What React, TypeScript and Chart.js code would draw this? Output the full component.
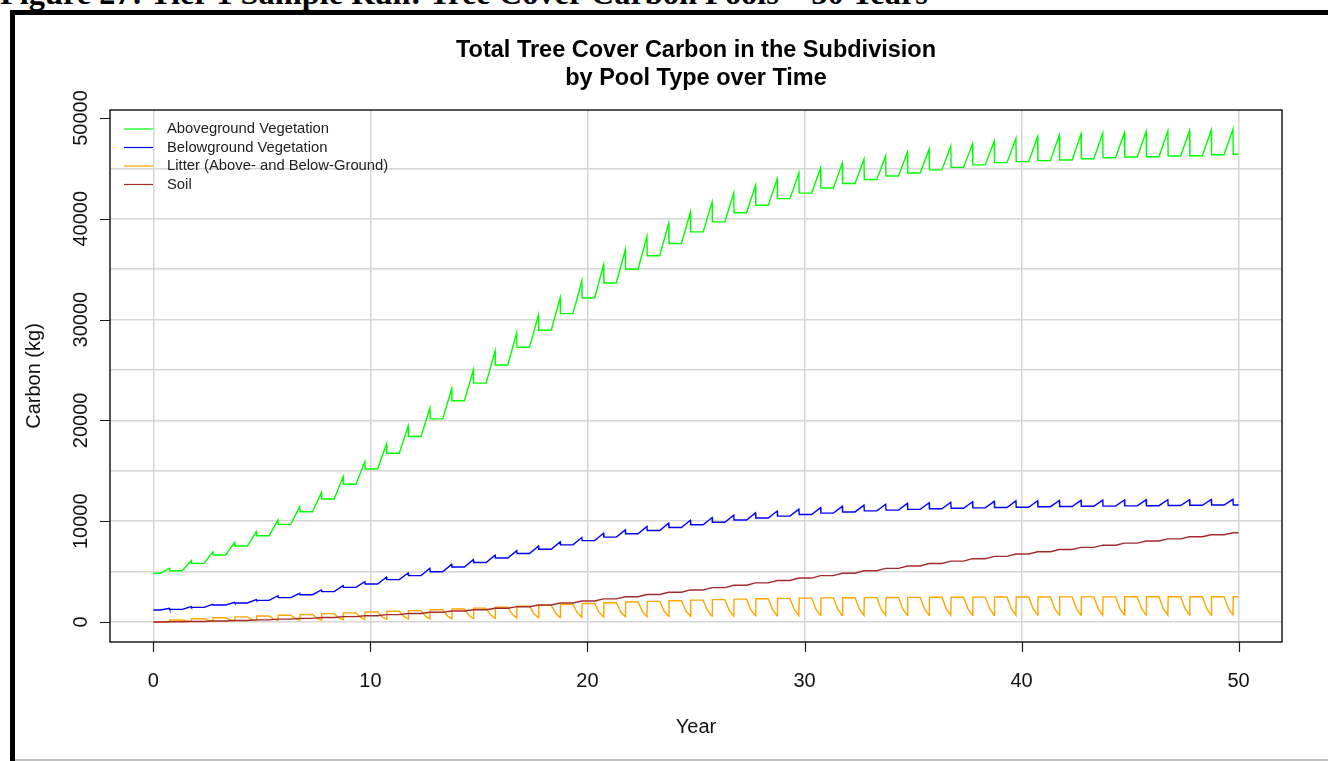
import { useEffect, useRef } from "react";
import { Chart, registerables } from "chart.js";

Chart.register(...registerables);

// ---- text ----
const FIGURE_CAPTION = "Figure 27: Tier 1 Sample Run: Tree Cover Carbon Pools – 50 Years";
const TITLE_LINES = ["Total Tree Cover Carbon in the Subdivision", "by Pool Type over Time"];
const X_LABEL = "Year";
const Y_LABEL = "Carbon (kg)";
const SERIES_NAMES = [
  "Aboveground Vegetation",
  "Belowground Vegetation",
  "Litter (Above- and Below-Ground)",
  "Soil",
];
const SERIES_COLORS = ["#00ff00", "#0000ff", "#ffa500", "#a52a2a"];

// ---- axes ----
const X_TICKS = [0, 10, 20, 30, 40, 50];
const Y_TICKS = [0, 10000, 20000, 30000, 40000, 50000];
const Y_GRID = [0, 5000, 10000, 15000, 20000, 25000, 30000, 35000, 40000, 45000];
const X_GRID = [0, 10, 20, 30, 40, 50];

// ---- season phases (fraction of a year) ----
const GROWTH_START = 0.33; // growing season begins
const MID_SEASON = 0.535;
const LEAF_FALL = 0.74; // end of growing season, leaf/litter fall
const AFTER_FALL = 0.755;

// ---- carbon pools, kg (one value per year) ----
// dormant-season level of aboveground vegetation at the start of each year 0..50
const ABOVE_BASE = [
  4830, 5090, 5820, 6650, 7540, 8560, 9690, 10940, 12200, 13660,
  15180, 16740, 18400, 20150, 21950, 23700, 25500, 27250, 28940, 30590,
  32140, 33630, 34990, 36340, 37550, 38700, 39700, 40600, 41350, 42000,
  42550, 43050, 43500, 43900, 44250, 44550, 44850, 45100, 45350, 45570,
  45670, 45770, 45830, 45960, 46060, 46130, 46160, 46230, 46260, 46360,
  46400,
];
// end-of-season peak of aboveground vegetation, years 0..49
const ABOVE_PEAK = [
  5330, 6080, 6970, 7900, 8960, 10120, 11440, 12830, 14410, 15900,
  17660, 19440, 21230, 23120, 25000, 26880, 28700, 30460, 32170, 33830,
  35420, 36900, 38250, 39550, 40650, 41650, 42550, 43300, 43950, 44550,
  45050, 45500, 45900, 46250, 46600, 46900, 47200, 47450, 47700, 47980,
  48150, 48310, 48410, 48480, 48540, 48640, 48710, 48740, 48810, 48880,
];
const BELOW_BASE = [
  1190, 1255, 1455, 1690, 1885, 2150, 2415, 2710, 3010, 3440,
  3770, 4200, 4600, 4990, 5450, 5900, 6350, 6800, 7220, 7650,
  8070, 8420, 8760, 9080, 9380, 9650, 9900, 10120, 10320, 10500,
  10660, 10800, 10920, 11020, 11100, 11170, 11230, 11280, 11320, 11360,
  11380, 11440, 11460, 11480, 11500, 11520, 11540, 11560, 11580, 11600,
  11610,
];
const BELOW_PEAK = [
  1355, 1520, 1750, 1950, 2215, 2610, 2845, 3175, 3605, 4000,
  4465, 4860, 5330, 5720, 6180, 6630, 7080, 7530, 7950, 8380,
  8800, 9140, 9480, 9800, 10090, 10360, 10600, 10820, 11010, 11190,
  11340, 11470, 11590, 11680, 11760, 11830, 11880, 11930, 11970, 12010,
  12030, 12050, 12070, 12090, 12100, 12120, 12130, 12140, 12160, 12170,
];
// litter right after leaf fall (held through the dormant season), years 0..50
const LITTER_HIGH = [
  0, 200, 320, 420, 510, 590, 670, 750, 830, 910,
  990, 1060, 1130, 1210, 1290, 1380, 1470, 1560, 1650, 1740,
  1830, 1910, 1980, 2050, 2110, 2170, 2220, 2270, 2310, 2340,
  2370, 2390, 2410, 2420, 2430, 2440, 2450, 2460, 2470, 2475,
  2480, 2485, 2490, 2490, 2495, 2500, 2500, 2505, 2505, 2510,
  2510,
];
// litter halfway through each season's decomposition, years 0..49
const LITTER_MID = [
  0, 110, 170, 220, 265, 305, 345, 390, 430, 470,
  515, 555, 585, 625, 670, 715, 760, 810, 855, 905,
  950, 990, 1030, 1065, 1095, 1125, 1155, 1180, 1200, 1220,
  1230, 1240, 1250, 1260, 1265, 1275, 1280, 1285, 1290, 1295,
  1300, 1300, 1305, 1305, 1310, 1315, 1315, 1320, 1320, 1325,
];
// litter left at the end of each season's decomposition, years 0..49
const LITTER_LOW = [
  0, 60, 90, 115, 140, 160, 180, 205, 225, 245,
  270, 290, 305, 325, 350, 370, 395, 420, 445, 470,
  495, 515, 535, 555, 570, 585, 600, 615, 625, 635,
  640, 645, 650, 655, 660, 665, 670, 670, 675, 675,
  680, 680, 685, 685, 690, 690, 690, 695, 695, 700,
];
// soil carbon at the start of each year 0..50
const SOIL = [
  0, 20, 55, 100, 155, 215, 285, 360, 440, 530,
  625, 730, 840, 960, 1085, 1220, 1365, 1520, 1690, 1880,
  2080, 2290, 2505, 2725, 2950, 3180, 3410, 3645, 3880, 4120,
  4360, 4600, 4840, 5080, 5320, 5560, 5800, 6040, 6280, 6515,
  6750, 6970, 7190, 7405, 7620, 7830, 8040, 8250, 8455, 8660,
  8860,
];

type Pt = { x: number; y: number };

// vegetation: flat in the dormant season, grows to a peak, drops at leaf fall
function vegetationSeries(base: number[], peak: number[]): Pt[] {
  const pts: Pt[] = [{ x: 0, y: base[0] }];
  for (let n = 0; n < peak.length; n++) {
    pts.push({ x: n + GROWTH_START, y: base[n] });
    pts.push({ x: n + LEAF_FALL, y: peak[n] });
    pts.push({ x: n + AFTER_FALL, y: base[n + 1] });
  }
  pts.push({ x: peak.length, y: base[peak.length] });
  return pts;
}

// litter: jumps at leaf fall, decomposes during the growing season
function litterSeries(high: number[], mid: number[], low: number[]): Pt[] {
  const pts: Pt[] = [{ x: 0, y: high[0] }];
  for (let n = 0; n < low.length; n++) {
    pts.push({ x: n + GROWTH_START, y: high[n] });
    pts.push({ x: n + MID_SEASON, y: mid[n] });
    pts.push({ x: n + LEAF_FALL, y: low[n] });
    pts.push({ x: n + AFTER_FALL, y: high[n + 1] });
  }
  pts.push({ x: low.length, y: high[low.length] });
  return pts;
}

// soil: gains carbon during the growing season
function soilSeries(soil: number[]): Pt[] {
  const pts: Pt[] = [{ x: 0, y: soil[0] }];
  for (let n = 0; n < soil.length - 1; n++) {
    pts.push({ x: n + GROWTH_START, y: soil[n] });
    pts.push({ x: n + LEAF_FALL, y: soil[n + 1] });
  }
  pts.push({ x: soil.length - 1, y: soil[soil.length - 1] });
  return pts;
}

const SERIES_POINTS = [
  vegetationSeries(ABOVE_BASE, ABOVE_PEAK),
  vegetationSeries(BELOW_BASE, BELOW_PEAK),
  litterSeries(LITTER_HIGH, LITTER_MID, LITTER_LOW),
  soilSeries(SOIL),
];

const SANS = '"Liberation Sans", Arial, Helvetica, sans-serif';

// R-style frame: box, outward ticks, rotated y labels, titles and a borderless legend
const baseGraphicsPlugin = {
  id: "baseGraphics",
  afterDatasetsDraw(chart: any) {
    const { ctx, chartArea: a, scales } = chart;
    const xs = scales.x;
    const ys = scales.y;
    const cx = (a.left + a.right) / 2;
    const cy = (a.top + a.bottom) / 2;
    ctx.save();

    ctx.strokeStyle = "#1b1b1b";
    ctx.lineWidth = 1.5;
    ctx.strokeRect(a.left, a.top, a.right - a.left, a.bottom - a.top);

    ctx.lineWidth = 1.2;
    ctx.beginPath();
    X_TICKS.forEach((v) => {
      const px = Math.round(xs.getPixelForValue(v)) + 0.5;
      ctx.moveTo(px, a.bottom);
      ctx.lineTo(px, a.bottom + 10);
    });
    Y_TICKS.forEach((v) => {
      const py = Math.round(ys.getPixelForValue(v)) + 0.5;
      ctx.moveTo(a.left, py);
      ctx.lineTo(a.left - 10, py);
    });
    ctx.stroke();

    ctx.fillStyle = "#111";
    ctx.font = `20px ${SANS}`;
    ctx.textAlign = "center";
    ctx.textBaseline = "alphabetic";
    X_TICKS.forEach((v) => ctx.fillText(String(v), xs.getPixelForValue(v), a.bottom + 45));
    Y_TICKS.forEach((v) => {
      ctx.save();
      ctx.translate(a.left - 23, ys.getPixelForValue(v));
      ctx.rotate(-Math.PI / 2);
      ctx.fillText(String(v), 0, 0);
      ctx.restore();
    });

    ctx.fillText(X_LABEL, cx, a.bottom + 91);
    ctx.save();
    ctx.translate(a.left - 70, cy);
    ctx.rotate(-Math.PI / 2);
    ctx.fillText(Y_LABEL, 0, 0);
    ctx.restore();

    ctx.font = `bold 23.5px ${SANS}`;
    ctx.fillStyle = "#000";
    ctx.fillText(TITLE_LINES[0], cx, 57);
    ctx.fillText(TITLE_LINES[1], cx, 85);

    ctx.font = `14.8px ${SANS}`;
    ctx.textAlign = "left";
    ctx.textBaseline = "middle";
    ctx.lineWidth = 1.2;
    SERIES_NAMES.forEach((name, i) => {
      const ly = a.top + 19 + i * 18.5;
      ctx.strokeStyle = SERIES_COLORS[i];
      ctx.beginPath();
      ctx.moveTo(a.left + 14, ly);
      ctx.lineTo(a.left + 43, ly);
      ctx.stroke();
      ctx.fillStyle = "#222";
      ctx.fillText(name, a.left + 57, ly);
    });

    ctx.restore();
  },
};

export default function App() {
  const canvasRef = useRef<HTMLCanvasElement>(null);

  useEffect(() => {
    const canvas = canvasRef.current;
    if (!canvas) return;
    const chart = new Chart(canvas, {
      type: "line",
      data: {
        datasets: SERIES_POINTS.map((pts, i) => ({
          label: SERIES_NAMES[i],
          data: pts,
          borderColor: SERIES_COLORS[i],
          backgroundColor: SERIES_COLORS[i],
          borderWidth: 1.4,
          pointRadius: 0,
          tension: 0,
          fill: false,
          order: SERIES_NAMES.length - i,
        })),
      },
      options: {
        animation: false,
        responsive: false,
        devicePixelRatio: 1,
        parsing: false,
        normalized: true,
        layout: { padding: { left: 110, top: 110, right: 46, bottom: 119 } },
        plugins: {
          legend: { display: false },
          title: { display: false },
          tooltip: { enabled: false },
        },
        scales: {
          x: {
            type: "linear",
            min: -2,
            max: 52,
            afterBuildTicks: (s: any) => {
              s.ticks = X_GRID.map((v) => ({ value: v }));
            },
            afterFit: (s: any) => {
              s.height = 0;
            },
            ticks: { display: false },
            grid: { color: "#d6d6d6", lineWidth: 1.5, drawTicks: false },
            border: { display: false },
          },
          y: {
            type: "linear",
            min: -1984,
            max: 50794,
            afterBuildTicks: (s: any) => {
              s.ticks = Y_GRID.map((v) => ({ value: v }));
            },
            afterFit: (s: any) => {
              s.width = 0;
            },
            ticks: { display: false },
            grid: { color: "#d6d6d6", lineWidth: 1.5, drawTicks: false },
            border: { display: false },
          },
        },
      },
      plugins: [baseGraphicsPlugin],
    });
    return () => chart.destroy();
  }, []);

  return (
    <div
      style={{
        position: "absolute",
        left: 0,
        top: 0,
        width: 1328,
        height: 761,
        overflow: "hidden",
        background: "#fff",
      }}
    >
      <div
        style={{
          position: "absolute",
          left: 0,
          top: -23.1,
          fontFamily: '"Liberation Serif", "Times New Roman", serif',
          fontWeight: "bold",
          fontSize: 32.4,
          lineHeight: "32.4px",
          whiteSpace: "nowrap",
          color: "#000",
        }}
      >
        {FIGURE_CAPTION}
      </div>
      <div
        style={{
          position: "absolute",
          left: 10,
          top: 10,
          width: 1400,
          height: 800,
          borderLeft: "5px solid #000",
          borderTop: "5px solid #000",
          boxSizing: "border-box",
        }}
      />
      <div
        style={{
          position: "absolute",
          left: 15,
          top: 759,
          width: 1313,
          height: 2,
          background: "#c0c0c0",
        }}
      />
      <canvas
        ref={canvasRef}
        width={1328}
        height={761}
        style={{ position: "absolute", left: 0, top: 0, width: 1328, height: 761 }}
      />
    </div>
  );
}
